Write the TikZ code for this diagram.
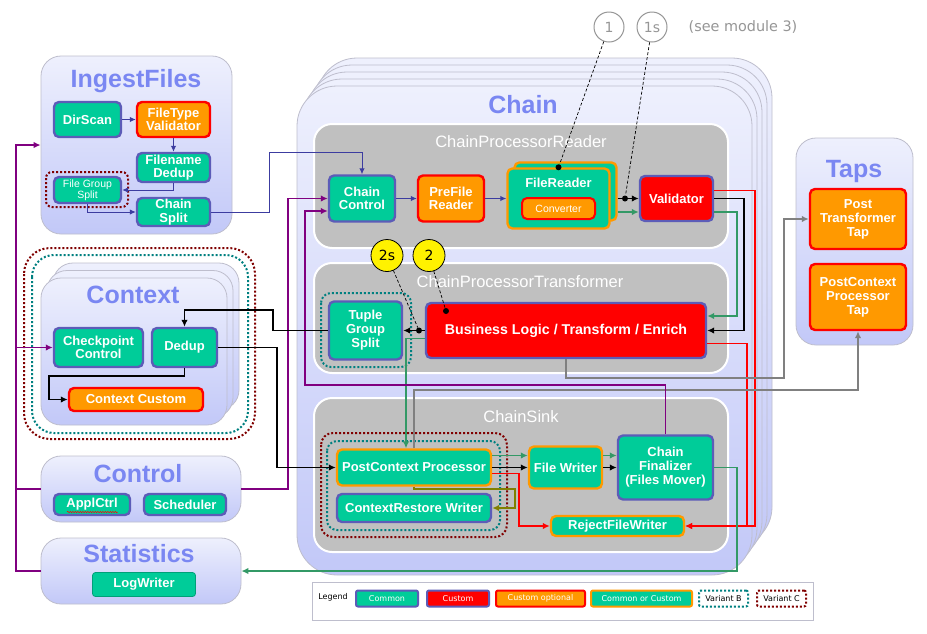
\documentclass[tikz,border=0pt]{standalone}
\usepackage{fontspec}
\setmainfont{Liberation Sans}
\newfontfamily\dvs{DejaVu Sans}
\usetikzlibrary{shapes,arrows,arrows.meta,positioning,calc,decorations.pathmorphing}
\definecolor{tealbox}{RGB}{0,204,153}
\definecolor{slate}{RGB}{92,92,184}
\definecolor{orangebox}{RGB}{255,153,0}
\definecolor{titleblue}{RGB}{122,135,242}
\definecolor{paneltop}{RGB}{238,240,253}
\definecolor{panelbot}{RGB}{194,200,248}
\definecolor{panelline}{RGB}{190,190,205}
\definecolor{graypanel}{RGB}{192,192,192}
\definecolor{purp}{RGB}{128,0,128}
\definecolor{grn}{RGB}{51,153,102}
\definecolor{blu}{RGB}{60,60,160}
\definecolor{olv}{RGB}{128,128,0}
\definecolor{varbcol}{RGB}{0,128,128}
\definecolor{varccol}{RGB}{128,0,0}
\definecolor{refgray}{RGB}{150,150,150}
\definecolor{logline}{RGB}{0,160,120}
\tikzstyle{box} = [rounded corners=5pt, line width=2.4pt, text=white, align=center, inner sep=0pt, font=\fontsize{13}{13.5}\selectfont\bfseries]
\tikzstyle{common} = [box, draw=slate, fill=tealbox]
\tikzstyle{custom} = [box, draw=slate, fill=red]
\tikzstyle{custopt} = [box, draw=red, fill=orangebox]
\tikzstyle{comcus} = [box, draw=orangebox, fill=tealbox]
\tikzstyle{panel} = [draw=panelline, line width=0.8pt, top color=paneltop, bottom color=panelbot, rounded corners=20pt]
\tikzstyle{gpanel} = [draw=white, line width=2pt, fill=graypanel, rounded corners=18pt]
\tikzstyle{ptitle} = [anchor=base, text=titleblue, font=\fontsize{25}{25}\selectfont\bfseries]
\tikzstyle{gtitle} = [anchor=base, text=white, font=\fontsize{16.5}{16.5}\selectfont]
\tikzstyle{varb} = [draw=varbcol, line width=2pt, dash pattern=on 2pt off 2pt, rounded corners=10pt]
\tikzstyle{varc} = [draw=varccol, line width=2pt, dash pattern=on 2pt off 2pt, rounded corners=10pt]
\tikzstyle{dot} = [circle, fill=black, inner sep=0pt, minimum size=6pt]
\tikzstyle{ref} = [circle, draw=refgray, fill=white, line width=1pt, text=refgray, minimum size=30pt, inner sep=0pt, font=\dvs\fontsize{14}{14}\selectfont]
\tikzstyle{refy} = [circle, draw=black, fill=yellow, line width=0.8pt, minimum size=32pt, inner sep=0pt, font=\dvs\fontsize{14}{14}\selectfont]
\tikzstyle{lg} = [font=\dvs\fontsize{8}{8}\selectfont, minimum height=16pt, line width=2pt, rounded corners=2pt]
\tikzstyle{cblu} = [draw=blu, line width=1pt, >={Latex[length=6pt,width=5.5pt]}]
\tikzstyle{cpur} = [draw=purp, line width=1.6pt]
\tikzstyle{cblk} = [draw=black, line width=1.6pt]
\tikzstyle{cgrn} = [draw=grn, line width=1.4pt]
\tikzstyle{cred} = [draw=red, line width=1.6pt]
\tikzstyle{cgry} = [draw=gray, line width=1.6pt]
\tikzstyle{colv} = [draw=olv, line width=1.6pt]
\tikzstyle{dsh} = [draw=black, line width=0.7pt, dash pattern=on 3pt off 2pt]
\pgfdeclarelayer{background}
\pgfsetlayers{background,main}
\begin{document}
\begin{tikzpicture}[x=1pt, y=-1pt, >={Latex[length=7pt,width=6.5pt]}]
\useasboundingbox (0,0) rectangle (927,633);
\begin{pgfonlayer}{background}
  \fill[white] (0,0) rectangle (927,633);
  % side panels
  \node[panel, minimum width=191pt, minimum height=178pt] (ingest) at (136.5,145) {};
  \draw[panel] (53,263) rectangle (239,410);
  \draw[panel] (47,270.5) rectangle (233,417.5);
  \node[panel, minimum width=186pt, minimum height=147pt] (ctx) at (134,351.5) {};
  \node[panel, minimum width=200pt, minimum height=66pt] (ctrl) at (141,489) {};
  \node[panel, minimum width=200pt, minimum height=66pt] (stats) at (141,571) {};
  \node[panel, minimum width=117pt, minimum height=207pt] (taps) at (854.5,241.5) {};
  % chain stack
  \draw[panel, rounded corners=40pt] (317,58) rectangle (772,547);
  \draw[panel, rounded corners=40pt] (312,65) rectangle (767,554);
  \draw[panel, rounded corners=40pt] (307,72) rectangle (762,561);
  \draw[panel, rounded corners=40pt] (302,79) rectangle (757,568);
  \node[panel, rounded corners=40pt, minimum width=455pt, minimum height=489pt] (chain) at (524.5,330.5) {};
  \node[gpanel, minimum width=414pt, minimum height=124pt] (rdr) at (521,186) {};
  \node[gpanel, minimum width=414pt, minimum height=110pt] (trf) at (521,318) {};
  \node[gpanel, minimum width=414pt, minimum height=154pt] (snk) at (521,475) {};
\end{pgfonlayer}

% titles
\node[ptitle] (ingestttl) at (136,87) {IngestFiles};
\node[ptitle] (ctxttl) at (133,303) {Context};
\node[ptitle] (ctrlttl) at (138,482) {Control};
\node[ptitle] (statsttl) at (139,562) {Statistics};
\node[ptitle] (tapsttl) at (854,177) {Taps};
\node[ptitle] (chainttl) at (523,113) {Chain};
\node[gtitle] (rdrttl) at (521,147) {ChainProcessorReader};
\node[gtitle] (trfttl) at (520,287) {ChainProcessorTransformer};
\node[gtitle] (snkttl) at (521,422) {ChainSink};

% variants
\draw[varc, rounded corners=6pt] (46,172) rectangle (128,207);
\draw[varc, rounded corners=26pt] (24,248) rectangle (255,439);
\draw[varb, rounded corners=22pt] (32,255) rectangle (248,433);
\draw[varb] (321,293) rectangle (411,367);
\draw[varc, rounded corners=12pt] (321,433) rectangle (507,537);
\draw[varb] (327,441) rectangle (500,530);

% IngestFiles
\node[common, minimum width=67pt, minimum height=35pt] (dirscan) at (87.5,119.5) {DirScan};
\node[custopt, minimum width=73pt, minimum height=35pt] (ftval) at (173.5,119.5) {FileType\\Validator};
\node[common, minimum width=73pt, minimum height=29pt] (fndedup) at (173.5,167.5) {Filename\\Dedup};
\node[common, minimum width=67pt, minimum height=26pt, font=\fontsize{10.5}{11}\selectfont] (fgsplit) at (87.5,190) {File Group\\Split};
\node[common, minimum width=73pt, minimum height=28pt] (chsplit) at (173.5,212) {Chain\\Split};

% Context
\node[common, minimum width=89pt, minimum height=39pt] (ckpt) at (98.5,347.5) {Checkpoint\\Control};
\node[common, minimum width=65pt, minimum height=39pt] (dedup) at (184.5,347.5) {Dedup};
\node[custopt, minimum width=134pt, minimum height=23pt] (ccust) at (136,399.5) {Context Custom};

% Control, Statistics
\node[common, minimum width=76pt, minimum height=21pt] (applctrl) at (92,504.5) {ApplCtrl};
\draw[red, line width=0.5pt, decorate, decoration={snake, amplitude=0.7pt, segment length=2.5pt}] (67,512) -- (118,512);
\node[common, minimum width=82pt, minimum height=21pt] (sched) at (185,504.5) {Scheduler};
\node[box, fill=tealbox, draw=logline, line width=0.8pt, rounded corners=3pt, minimum width=103pt, minimum height=24pt] (logw) at (144,584.5) {LogWriter};

% Taps
\node[custopt, minimum width=96pt, minimum height=60pt, font=\fontsize{13}{14}\selectfont\bfseries] (ptt) at (858,219) {Post\\Transformer\\Tap};
\node[custopt, minimum width=96pt, minimum height=66pt, font=\fontsize{13}{14}\selectfont\bfseries] (pcpt) at (858,297) {PostContext\\Processor\\Tap};

% ChainProcessorReader
\node[common, minimum width=66pt, minimum height=46pt] (cc) at (362,198.5) {Chain\\Control};
\node[custopt, minimum width=66pt, minimum height=46pt] (pfr) at (451,198.5) {PreFile\\Reader};
\node[comcus, minimum width=102pt, minimum height=58pt] (frb) at (565.5,191.5) {};
\node[comcus, minimum width=102pt, minimum height=60pt] (fr) at (558.5,198.5) {};
\node[text=white, font=\fontsize{13}{13}\selectfont\bfseries] (frlbl) at (558.5,183) {FileReader};
\node[custopt, line width=2pt, minimum width=73pt, minimum height=21pt, font=\fontsize{10.5}{11}\selectfont] (conv) at (558.5,208.5) {Converter};
\node[custom, minimum width=73pt, minimum height=45pt] (val) at (676.5,198.5) {Validator};

% ChainProcessorTransformer
\node[common, minimum width=73pt, minimum height=58pt, font=\fontsize{13}{14}\selectfont\bfseries] (tgs) at (365.5,330.5) {Tuple\\Group\\Split};
\node[custom, minimum width=280pt, minimum height=55pt, font=\fontsize{14.2}{15}\selectfont\bfseries] (bl) at (566,330.5) {Business Logic / Transform / Enrich};

% ChainSink
\node[comcus, minimum width=154pt, minimum height=36pt] (pcp) at (414,467.5) {PostContext Processor};
\node[common, minimum width=154pt, minimum height=28pt] (crw) at (414,508) {ContextRestore Writer};
\node[comcus, minimum width=73pt, minimum height=42pt] (fw) at (565.5,467.5) {File Writer};
\node[common, minimum width=95pt, minimum height=64pt, font=\fontsize{13}{14}\selectfont\bfseries] (cf) at (665.5,467.5) {Chain\\Finalizer\\(Files Mover)};
\node[comcus, minimum width=133pt, minimum height=20pt] (rfw) at (617.5,526) {RejectFileWriter};

% references
\node[ref] (ref1) at (609,27) {1};
\node[ref] (ref1s) at (652,27) {1s};
\node[text=refgray, font=\dvs\fontsize{14.4}{14.4}\selectfont] (seemod) at (743,27) {(see module 3)};
\node[refy] (ref2s) at (387,255.5) {2s};
\node[refy] (ref2) at (429,255.5) {2};
\node[dot] (dot1) at (fr.north) {};
\node[dot] (dot1s) at (625,198.5) {};
\node[dot] (dot2s) at (419,330.5) {};
\node[dot] (dot2) at (446,311) {};
\draw[dsh] (ref1) -- (dot1);
\draw[dsh] (ref1s) -- (dot1s);
\draw[dsh] (ref2s) -- (dot2s);
\draw[dsh] (ref2) -- (dot2);

% connectors
\draw[cblu,->] (dirscan) -- (ftval);
\draw[cblu,->] (ftval) -- (fndedup);
\draw[cblu,->] (fndedup.south) |- (fgsplit.east);
\draw[cblu,->] (fgsplit.south) |- (chsplit.west);
\draw[cblu,->] (chsplit.east) -| (269,152) -| (cc.north);
\draw[cblu,->] (cc) -- (pfr);
\draw[cblu,->] (pfr) -- (fr);
\draw[cblk,->] (frb.east |- fr.east) -- (val.west);
\draw[cgrn,->] ($(val.west -| frb.east)+(0,13.5)$) -- ($(val.west)+(0,13.5)$);
\draw[cblk,->] (bl) -- (tgs);
\draw[cblk,->] (val.east) -| (744,330.5) -- (bl.east);
\draw[cgrn,->] ($(val.east)+(0,13.5)$) -| (737,316) -- ($(bl.east)+(0,-14.5)$);
\draw[cred,->] ($(val.east)+(0,-8)$) -| (755,526) -- (rfw.east);
\draw[cred,->] ($(bl.east)+(0,13)$) -| (747,526) -- (rfw.east);
\draw[cgrn,->] ($(bl.west)+(0,8)$) -| ($(pcp.north)+(-8,0)$);
\draw[cgry,->] (bl.south) |- (784,378) |- (ptt.west);
\draw[cgry,->] (pcp.north) |- (858,390) -- (pcpt.south);
\draw[cgrn,->] ($(pcp.east)+(0,-12)$) -- ($(fw.west)+(0,-12)$);
\draw[cblk,->] (pcp) -- (fw);
\draw[cgrn,->] ($(fw.east)+(0,-12)$) -- ($(cf.west)+(0,-12)$);
\draw[cblk,->] (fw) -- (cf);
\draw[cred,->] ($(pcp.east)+(0,6)$) -| (519,526) -- (rfw.west);
\draw[colv,->] (pcp.south) |- (515,489) |- (crw.east);
\draw[cgrn,->] (cf.east) -| (737,571) -- (stats.east);
\draw[cpur,->] (ctrl.east) -| (288,198.5) -- (cc.west);
\draw[cpur,->] (cf.north) |- (305,385) |- ($(cc.west)+(0,12.5)$);
\draw[cpur,->] (ctrl.west) -| (16,145) -- (ingest.west);
\draw[cpur] (ctrl.west) -| (16,571) -- (stats.west);
\coordinate (busctx) at (16,347.5);
\draw[cpur,->] (busctx) -- (ckpt.west);
\draw[cblk,->] (dedup.south) |- (49,376) |- (ccust.west);
\draw[cblk,->] (tgs.west) -| (273,310) -| (dedup.north);
\draw[cblk,->] (dedup.east) -| (277,467.5) -- (pcp.west);

% legend
\node[draw=panelline, line width=0.8pt, fill=white, minimum width=501pt, minimum height=38pt] (legend) at (562.5,601) {};
\node[anchor=base, font=\dvs\fontsize{8}{8}\selectfont] (leglbl) at (333,599) {Legend};
\node[common, lg, minimum width=62pt] (lcom) at (387,598.5) {Common};
\node[custom, lg, minimum width=62pt] (lcus) at (458,598.5) {Custom};
\node[custopt, lg, minimum width=89pt] (lopt) at (540.5,598.5) {Custom optional};
\node[comcus, lg, minimum width=101pt] (lcoc) at (641.5,598.5) {Common or Custom};
\node[varb, lg, fill=white, minimum width=49pt] (lvb) at (723.5,598.5) {Variant B};
\node[varc, lg, fill=white, minimum width=49pt] (lvc) at (781.5,598.5) {Variant C};
\end{tikzpicture}
\end{document}
